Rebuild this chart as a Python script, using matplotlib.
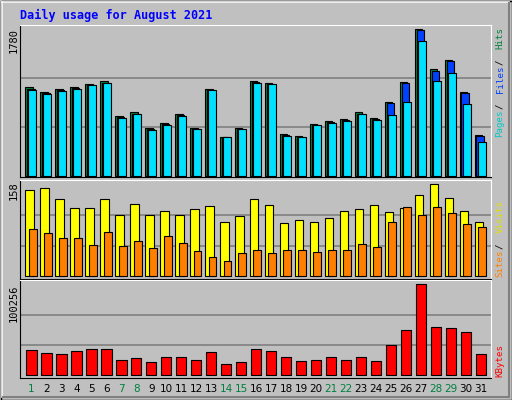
import matplotlib
matplotlib.use("Agg")
import matplotlib.pyplot as plt
from matplotlib.patches import Rectangle

days = list(range(1, 32))
weekend = [1, 7, 8, 14, 15, 21, 22, 28, 29]

hits = [1076, 1015, 1052, 1076, 1112, 1149, 724, 773, 582, 639, 748, 582, 1052, 473, 582, 1149,
        1125, 506, 481, 627, 663, 692, 773, 700, 894, 1137, 1780, 1294, 1404, 1015, 493]
files = [1060, 1003, 1040, 1064, 1100, 1133, 712, 757, 570, 627, 736, 570, 1040, 473, 570, 1137,
         1112, 493, 473, 615, 651, 680, 757, 688, 882, 1125, 1768, 1270, 1392, 1003, 481]
pages = [1040, 991, 1027, 1052, 1100, 1125, 700, 748, 554, 615, 724, 566, 1040, 469, 566, 1133,
         1112, 481, 469, 615, 639, 663, 748, 676, 736, 894, 1634, 1149, 1246, 870, 409]
sites = [148, 151, 132, 117, 117, 132, 105, 124, 105, 113, 106, 115, 120, 94, 103, 132,
         122, 91, 96, 94, 100, 112, 115, 122, 110, 117, 139, 158, 134, 112, 94]
visits = [82, 74, 65, 65, 53, 76, 52, 60, 48, 69, 57, 43, 33, 26, 40, 46,
          40, 46, 45, 41, 45, 45, 55, 50, 94, 119, 106, 119, 108, 89, 84]
kbytes = [27540, 24240, 23130, 26440, 28640, 28640, 16520, 18730, 14320, 19830, 19830, 16520,
          25340, 12120, 14320, 28640, 26440, 19830, 15420, 16520, 19830, 16520, 19830, 15420,
          33050, 49570, 100256, 52880, 51780, 47370, 23130]

W, H = 512, 400
BG = "#C0C0C0"
MONO = "DejaVu Sans Mono"
fig = plt.figure(figsize=(W / 100, H / 100), dpi=100)
fig.patch.set_facecolor(BG)

# bevelled outer frame (figure pixel coords)
bg = fig.add_axes([0, 0, 1, 1])
bg.set_xlim(0, W)
bg.set_ylim(H, 0)
bg.axis("off")
bg.add_patch(Rectangle((0.5, 0.5), W - 1, H - 1, fill=False, ec="black", lw=1))
bg.plot([2, W - 3], [2, 2], color="white", lw=1.2)
bg.plot([2, 2], [2, H - 3], color="white", lw=1.2)
bg.plot([3, W - 3], [H - 3, H - 3], color="#808080", lw=1.5)
bg.plot([W - 3, W - 3], [3, H - 3], color="#808080", lw=1.5)

def panel(y0, y1):
    ax = fig.add_axes([20 / W, 1 - y1 / H, 470.7 / W, (y1 - y0) / H])
    ax.set_facecolor(BG)
    ax.set_xlim(0.23, 31.65)
    ax.set_xticks([])
    ax.set_yticks([])
    for s in ["left", "bottom"]:
        ax.spines[s].set_color("black")
    for s in ["top", "right"]:
        ax.spines[s].set_color("white")
    return ax

def grid(ax, top):
    for f in (1 / 3, 2 / 3):
        ax.axhline(top * f, color="#808080", lw=1.2, zorder=0)

kw = dict(edgecolor="black", linewidth=0.8, zorder=2)

ax1 = panel(25, 177)
ax1.set_ylim(-12, 1832)
grid(ax1, 1780)
ax1.bar([d - 0.17 for d in days], hits, width=0.5, color="#008040", **kw)
ax1.bar([d - 0.05 for d in days], files, width=0.5, color="#0040FF", **kw)
ax1.bar([d + 0.05 for d in days], pages, width=0.56, color="#00E0FF", **kw)

ax2 = panel(180, 279)
ax2.set_ylim(-4.6, 165.4)
grid(ax2, 158)
ax2.bar([d - 0.13 for d in days], sites, width=0.56, color="#FFFF00", **kw)
ax2.bar([d + 0.08 for d in days], visits, width=0.53, color="#FF8000", **kw)

ax3 = panel(280, 378)
ax3.set_ylim(-2975, 104990)
grid(ax3, 100256)
ax3.bar(days, kbytes, width=0.68, color="#FF0000", **kw)

fig.text(20 / W, 1 - 15 / H, "Daily usage for August 2021", color="#0000FF",
         fontsize=8.5, fontweight="bold", family=MONO, va="center", ha="left")

for txt, ytop in [("1780", 28), ("158", 181), ("100256", 284)]:
    fig.text(14 / W, 1 - ytop / H, txt, rotation=90, fontsize=7.5, family=MONO,
             ha="center", va="top")

def vlabel(parts, ybottom, fs=6.6):
    cw = 0.602 * fs * 100 / 72
    y = ybottom
    for txt, col in parts:
        fig.text(500 / W, 1 - y / H, txt.strip(), rotation=90, color=col, fontsize=fs,
                 family=MONO, ha="center", va="bottom")
        y -= cw * len(txt)

vlabel([("Pages", "#00C8C8"), (" / ", "black"), ("Files", "#0040FF"),
        (" / ", "black"), ("Hits", "#008040")], 137)
vlabel([("Sites", "#FF8000"), (" / ", "black"), ("Visits", "#E0E000")], 277)
vlabel([("KBytes", "#FF0000")], 377)

for d in days:
    xp = 20 + (d - 0.23) / (31.65 - 0.23) * 470.7
    fig.text(xp / W, 1 - 389 / H, str(d), fontsize=7.5, ha="center", va="center",
             color="#008040" if d in weekend else "black")

fig.savefig("out.png", dpi=100, facecolor=BG)
